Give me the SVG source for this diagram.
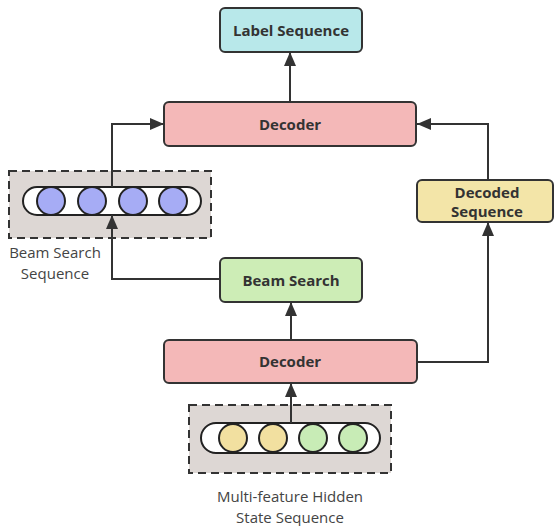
<svg xmlns="http://www.w3.org/2000/svg" width="554" height="526" viewBox="0 0 554 526">
  <defs>
    <marker id="arrow" viewBox="0 0 14 12" refX="14" refY="6" markerWidth="14" markerHeight="12" markerUnits="userSpaceOnUse" orient="auto">
      <path d="M0,0 L14,6 L0,12 z" fill="#333"/>
    </marker>
    <style>
      .box { stroke: #333; stroke-width: 2; }
      .label { font-family: "Open Sans", "Noto Sans", "Liberation Sans", sans-serif; font-weight: bold; font-size: 15px; fill: #333; text-anchor: middle; }
      .caption { font-family: "Open Sans", "Noto Sans", "Liberation Sans", sans-serif; font-size: 15px; fill: #444; text-anchor: middle; }
      .group { fill: #ddd7d4; stroke: #333; stroke-width: 2; stroke-dasharray: 8 5; }
      .pill { fill: #fff; stroke: #222; stroke-width: 2; }
      .cell { stroke: #222; stroke-width: 2; }
      .wire { fill: none; stroke: #333; stroke-width: 2; marker-end: url(#arrow); }
    </style>
  </defs>

  <g id="label-sequence">
    <rect class="box" x="220" y="8" width="142" height="44" rx="5" fill="#b8e8ea"/>
    <text class="label" x="291" y="36">Label Sequence</text>
  </g>

  <g id="decoder-top">
    <rect class="box" x="164" y="102" width="252" height="44" rx="5" fill="#f4b8b8"/>
    <text class="label" x="290" y="130">Decoder</text>
  </g>

  <g id="decoded-sequence">
    <rect class="box" x="417" y="180" width="136" height="42" rx="5" fill="#f3e5a8"/>
    <text class="label" x="487" y="198">Decoded</text>
    <text class="label" x="487" y="217">Sequence</text>
  </g>

  <g id="beam-search-sequence">
    <rect class="group" x="9" y="171" width="202" height="67"/>
    <rect class="pill" x="23" y="187" width="178" height="28" rx="14"/>
    <circle class="cell" cx="51" cy="201" r="14" fill="#a6acf5"/>
    <circle class="cell" cx="92" cy="201" r="14" fill="#a6acf5"/>
    <circle class="cell" cx="133" cy="201" r="14" fill="#a6acf5"/>
    <circle class="cell" cx="173" cy="201" r="14" fill="#a6acf5"/>
    <text class="caption" x="55" y="258">Beam Search</text>
    <text class="caption" x="55" y="279">Sequence</text>
  </g>

  <g id="beam-search">
    <rect class="box" x="220" y="258" width="142" height="44" rx="5" fill="#cdedb6"/>
    <text class="label" x="291" y="286">Beam Search</text>
  </g>

  <g id="decoder-bottom">
    <rect class="box" x="164" y="340" width="253" height="43" rx="5" fill="#f4b8b8"/>
    <text class="label" x="290" y="367">Decoder</text>
  </g>

  <g id="hidden-state-sequence">
    <rect class="group" x="189" y="405" width="202" height="68"/>
    <rect class="pill" x="201" y="423" width="179" height="30" rx="15"/>
    <circle class="cell" cx="233" cy="438" r="14" fill="#f2e0a0"/>
    <circle class="cell" cx="273" cy="438" r="14" fill="#f2e0a0"/>
    <circle class="cell" cx="313" cy="438" r="14" fill="#c8ecb6"/>
    <circle class="cell" cx="353" cy="438" r="14" fill="#c8ecb6"/>
    <text class="caption" x="290" y="502">Multi-feature Hidden</text>
    <text class="caption" x="290" y="523">State Sequence</text>
  </g>

  <!-- connectors, drawn over the dashed groups -->
  <g id="connectors">
    <path class="wire" d="M290,102 V52"/>
    <path class="wire" d="M488,180 V124 H417"/>
    <path class="wire" d="M112,187 V124 H164"/>
    <path class="wire" d="M220,279 H112 V215"/>
    <path class="wire" d="M291,340 V302"/>
    <path class="wire" d="M417,362 H488 V222"/>
    <path class="wire" d="M291,423 V383"/>
  </g>
</svg>
